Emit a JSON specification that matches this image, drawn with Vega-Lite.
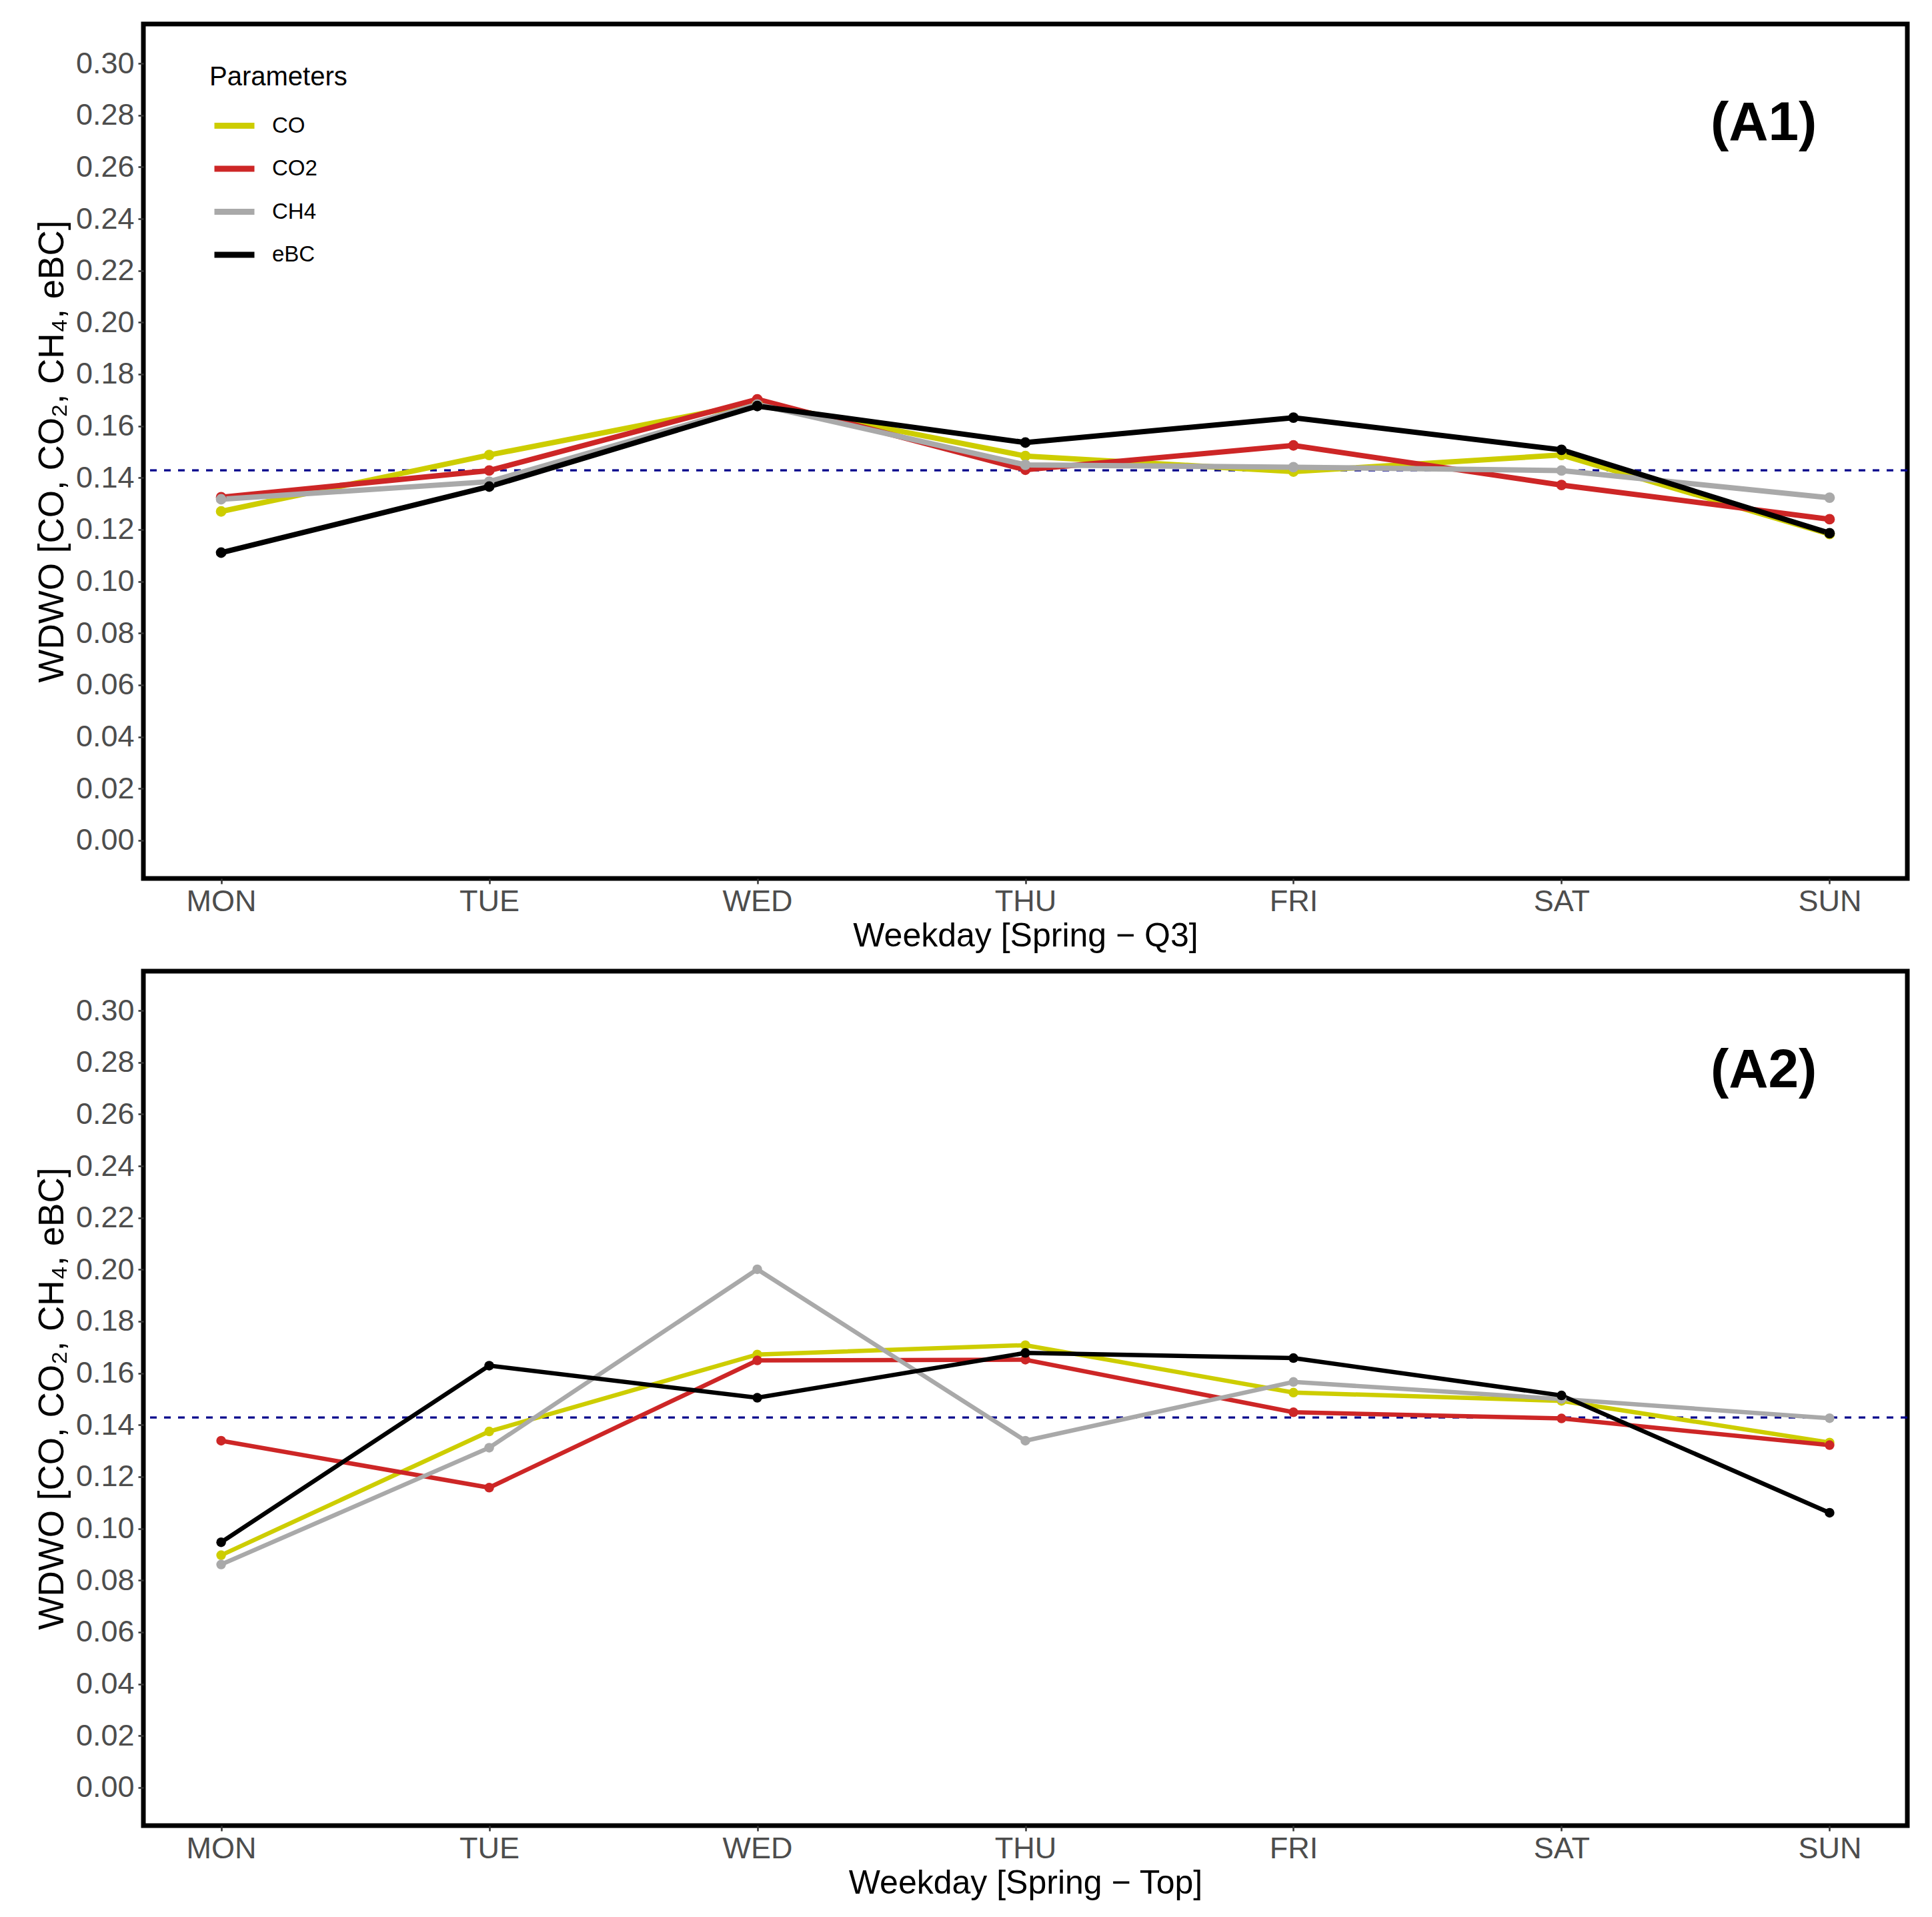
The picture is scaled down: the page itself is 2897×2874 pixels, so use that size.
{
  "$schema": "https://vega.github.io/schema/vega-lite/v6.json",
  "background": "white",
  "padding": {"left": 48, "top": 32, "right": 10, "bottom": 10},
  "config": {
    "font": "Liberation Sans",
    "view": {"stroke": "black", "strokeWidth": 7},
    "axis": {
      "grid": false, "domain": false, "tickColor": "#333333", "tickSize": 8, "tickWidth": 2.5,
      "labelColor": "#4d4d4d", "labelFontSize": 45, "labelFont": "Liberation Sans",
      "titleColor": "black", "titleFontWeight": "normal", "titleFont": "Liberation Sans"
    },
    "legend": {
      "titleFontSize": 40, "titleFontWeight": "normal", "titleColor": "black", "titleFont": "Liberation Sans", "titleLimit": 600,
      "labelFontSize": 33, "labelColor": "black", "labelFont": "Liberation Sans", "labelLimit": 400
    }
  },
  "datasets": {
    "a1": [
      {"day": "MON", "param": "CO", "value": 0.127},
      {"day": "TUE", "param": "CO", "value": 0.1488},
      {"day": "WED", "param": "CO", "value": 0.169},
      {"day": "THU", "param": "CO", "value": 0.1484},
      {"day": "FRI", "param": "CO", "value": 0.1424},
      {"day": "SAT", "param": "CO", "value": 0.1488},
      {"day": "SUN", "param": "CO", "value": 0.1183},
      {"day": "MON", "param": "CO2", "value": 0.1325},
      {"day": "TUE", "param": "CO2", "value": 0.1428},
      {"day": "WED", "param": "CO2", "value": 0.1703},
      {"day": "THU", "param": "CO2", "value": 0.1431},
      {"day": "FRI", "param": "CO2", "value": 0.1525},
      {"day": "SAT", "param": "CO2", "value": 0.1372},
      {"day": "SUN", "param": "CO2", "value": 0.124},
      {"day": "MON", "param": "CH4", "value": 0.1317},
      {"day": "TUE", "param": "CH4", "value": 0.1385},
      {"day": "WED", "param": "CH4", "value": 0.1683},
      {"day": "THU", "param": "CH4", "value": 0.145},
      {"day": "FRI", "param": "CH4", "value": 0.1441},
      {"day": "SAT", "param": "CH4", "value": 0.1428},
      {"day": "SUN", "param": "CH4", "value": 0.1323},
      {"day": "MON", "param": "eBC", "value": 0.1111},
      {"day": "TUE", "param": "eBC", "value": 0.1366},
      {"day": "WED", "param": "eBC", "value": 0.1677},
      {"day": "THU", "param": "eBC", "value": 0.1536},
      {"day": "FRI", "param": "eBC", "value": 0.1632},
      {"day": "SAT", "param": "eBC", "value": 0.1508},
      {"day": "SUN", "param": "eBC", "value": 0.1186}
    ],
    "a2": [
      {"day": "MON", "param": "CO", "value": 0.0897},
      {"day": "TUE", "param": "CO", "value": 0.1375},
      {"day": "WED", "param": "CO", "value": 0.1672},
      {"day": "THU", "param": "CO", "value": 0.1708},
      {"day": "FRI", "param": "CO", "value": 0.1525},
      {"day": "SAT", "param": "CO", "value": 0.1493},
      {"day": "SUN", "param": "CO", "value": 0.1332},
      {"day": "MON", "param": "CO2", "value": 0.1339},
      {"day": "TUE", "param": "CO2", "value": 0.1158},
      {"day": "WED", "param": "CO2", "value": 0.1649},
      {"day": "THU", "param": "CO2", "value": 0.1652},
      {"day": "FRI", "param": "CO2", "value": 0.1449},
      {"day": "SAT", "param": "CO2", "value": 0.1425},
      {"day": "SUN", "param": "CO2", "value": 0.1322},
      {"day": "MON", "param": "CH4", "value": 0.0861},
      {"day": "TUE", "param": "CH4", "value": 0.1312},
      {"day": "WED", "param": "CH4", "value": 0.2001},
      {"day": "THU", "param": "CH4", "value": 0.1339},
      {"day": "FRI", "param": "CH4", "value": 0.1566},
      {"day": "SAT", "param": "CH4", "value": 0.15},
      {"day": "SUN", "param": "CH4", "value": 0.1426},
      {"day": "MON", "param": "eBC", "value": 0.0947},
      {"day": "TUE", "param": "eBC", "value": 0.1629},
      {"day": "WED", "param": "eBC", "value": 0.1505},
      {"day": "THU", "param": "eBC", "value": 0.1678},
      {"day": "FRI", "param": "eBC", "value": 0.1658},
      {"day": "SAT", "param": "eBC", "value": 0.1514},
      {"day": "SUN", "param": "eBC", "value": 0.1061}
    ]
  },
  "spacing": 20,
  "resolve": {"legend": {"color": "independent"}},
  "vconcat": [
    {
      "width": 2645,
      "height": 1281,
      "layer": [
        {
          "data": {"values": [{"ref": 0.142857}]},
          "mark": {"type": "rule", "strokeDash": [10, 11], "strokeWidth": 3.3, "color": "#00008B"},
          "encoding": {"y": {"field": "ref", "type": "quantitative"}}
        },
        {
          "data": {"name": "a1"},
          "mark": {"type": "line", "strokeWidth": 8},
          "encoding": {
            "x": {"field": "day", "type": "ordinal", "sort": ["MON", "TUE", "WED", "THU", "FRI", "SAT", "SUN"], "scale": {"type": "point", "padding": 0.29}, "axis": {"title": "Weekday [Spring − Q3]", "titleFontSize": 50, "labelAngle": 0, "labelPadding": 4, "titlePadding": 4}},
            "y": {"field": "value", "type": "quantitative", "scale": {"domain": [-0.0147, 0.3152], "nice": false, "zero": false}, "axis": {"values": [0, 0.02, 0.04, 0.06, 0.08, 0.1, 0.12, 0.14, 0.16, 0.18, 0.2, 0.22, 0.24, 0.26, 0.28, 0.3], "format": ".2f", "title": "WDWO [CO, CO₂, CH₄, eBC]", "titleFontSize": 53, "titlePadding": 8, "labelPadding": 6}},
            "color": {"field": "param", "type": "nominal", "sort": ["CO", "CO2", "CH4", "eBC"], "scale": {"domain": ["CO", "CO2", "CH4", "eBC"], "range": ["#CDCD00", "#CD2626", "#A9A9A9", "#000000"]},
              "legend": {"title": "Parameters", "orient": "none", "legendX": 99, "legendY": 60, "padding": 0, "symbolType": "stroke", "symbolSize": 3600, "symbolStrokeWidth": 9, "labelOffset": 22, "rowPadding": 11.5, "titlePadding": 18, "symbolOffset": 3}}
          }
        },
        {
          "data": {"name": "a1"},
          "mark": {"type": "circle", "size": 250, "opacity": 1},
          "encoding": {
            "x": {"field": "day", "type": "ordinal", "sort": ["MON", "TUE", "WED", "THU", "FRI", "SAT", "SUN"]},
            "y": {"field": "value", "type": "quantitative"},
            "color": {"field": "param", "type": "nominal", "sort": ["CO", "CO2", "CH4", "eBC"]}
          }
        },
        {
          "data": {"values": [{"label": "(A1)"}]},
          "mark": {"type": "text", "fontSize": 82, "fontWeight": "bold", "align": "right", "baseline": "alphabetic", "dx": -19, "color": "black"},
          "encoding": {
            "x": {"datum": "SUN", "type": "ordinal"},
            "y": {"datum": 0.2705, "type": "quantitative"},
            "text": {"field": "label"}
          }
        }
      ]
    },
    {
      "width": 2645,
      "height": 1281,
      "layer": [
        {
          "data": {"values": [{"ref": 0.142857}]},
          "mark": {"type": "rule", "strokeDash": [10, 11], "strokeWidth": 3.3, "color": "#00008B"},
          "encoding": {"y": {"field": "ref", "type": "quantitative"}}
        },
        {
          "data": {"name": "a2"},
          "mark": {"type": "line", "strokeWidth": 6.5},
          "encoding": {
            "x": {"field": "day", "type": "ordinal", "sort": ["MON", "TUE", "WED", "THU", "FRI", "SAT", "SUN"], "scale": {"type": "point", "padding": 0.29}, "axis": {"title": "Weekday [Spring − Top]", "titleFontSize": 50, "labelAngle": 0, "labelPadding": 4, "titlePadding": 4}},
            "y": {"field": "value", "type": "quantitative", "scale": {"domain": [-0.0147, 0.3152], "nice": false, "zero": false}, "axis": {"values": [0, 0.02, 0.04, 0.06, 0.08, 0.1, 0.12, 0.14, 0.16, 0.18, 0.2, 0.22, 0.24, 0.26, 0.28, 0.3], "format": ".2f", "title": "WDWO [CO, CO₂, CH₄, eBC]", "titleFontSize": 53, "titlePadding": 8, "labelPadding": 6}},
            "color": {"field": "param", "type": "nominal", "sort": ["CO", "CO2", "CH4", "eBC"], "scale": {"domain": ["CO", "CO2", "CH4", "eBC"], "range": ["#CDCD00", "#CD2626", "#A9A9A9", "#000000"]}, "legend": null}
          }
        },
        {
          "data": {"name": "a2"},
          "mark": {"type": "circle", "size": 210, "opacity": 1},
          "encoding": {
            "x": {"field": "day", "type": "ordinal", "sort": ["MON", "TUE", "WED", "THU", "FRI", "SAT", "SUN"]},
            "y": {"field": "value", "type": "quantitative"},
            "color": {"field": "param", "type": "nominal", "sort": ["CO", "CO2", "CH4", "eBC"], "legend": null}
          }
        },
        {
          "data": {"values": [{"label": "(A2)"}]},
          "mark": {"type": "text", "fontSize": 82, "fontWeight": "bold", "align": "right", "baseline": "alphabetic", "dx": -19, "color": "black"},
          "encoding": {
            "x": {"datum": "SUN", "type": "ordinal"},
            "y": {"datum": 0.2705, "type": "quantitative"},
            "text": {"field": "label"}
          }
        }
      ]
    }
  ]
}
